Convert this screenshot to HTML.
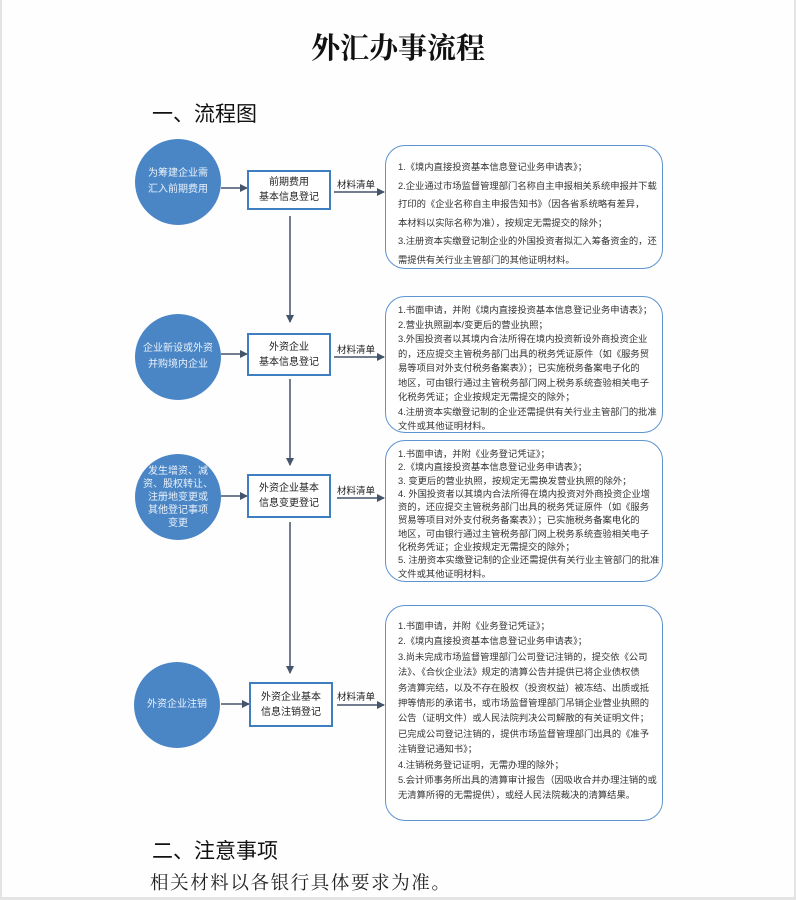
<!DOCTYPE html>
<html><head><meta charset="utf-8"><style>
body{margin:0;width:796px;height:900px;background:#e4e4e4;position:relative;overflow:hidden;font-family:"Liberation Sans","Noto Sans CJK SC",sans-serif;}
.page{position:absolute;left:2px;top:0;width:792px;height:897px;background:#fefefe;}
.a{position:absolute;white-space:nowrap;}
.c{position:absolute;width:86px;height:86px;border-radius:50%;background:#4a86c5;color:#eaf2fb;font-size:10px;display:flex;align-items:center;justify-content:center;text-align:center;line-height:16px;}
.b{position:absolute;width:80px;border:2px solid #3f7fc1;background:#fff;font-size:10px;text-align:center;line-height:15px;color:#222;display:flex;align-items:center;justify-content:center;}
.m{position:absolute;left:385px;width:278px;border:1.5px solid #5d93cf;border-radius:20px;background:#fff;font-size:9.3px;color:#333;box-sizing:border-box;padding-left:12px;white-space:nowrap;}
.l{position:absolute;font-size:9.5px;color:#222;left:337px;}
</style></head><body><div class="page"></div>
<div class="a" style="left:311px;top:26px;font-family:'Noto Serif CJK SC',serif;font-weight:bold;font-size:29px;color:#111;">外汇办事流程</div>
<div class="a" style="left:152px;top:98px;font-size:21px;color:#111;">一、流程图</div>

<svg width="796" height="900" style="position:absolute;left:0;top:0">
<defs><marker id="ar" markerWidth="8" markerHeight="8" refX="7" refY="4" orient="auto" markerUnits="userSpaceOnUse"><path d="M0,0 L8,4 L0,8z" fill="#44546a"/></marker></defs>
<g stroke="#44546a" stroke-width="1.5" marker-end="url(#ar)">
<line x1="221" y1="188" x2="247" y2="188"/>
<line x1="221" y1="354" x2="247" y2="354"/>
<line x1="221" y1="496" x2="247" y2="496"/>
<line x1="221" y1="704" x2="249" y2="704"/>
<line x1="334" y1="192" x2="384" y2="192"/>
<line x1="334" y1="357" x2="384" y2="357"/>
<line x1="337" y1="498" x2="384" y2="498"/>
<line x1="337" y1="705" x2="384" y2="705"/>
<line x1="290" y1="216" x2="290" y2="322"/>
<line x1="290" y1="379" x2="290" y2="465"/>
<line x1="290" y1="522" x2="290" y2="673"/>
</g></svg>

<div class="c" style="left:135px;top:139px;">为筹建企业需<br>汇入前期费用</div>
<div class="c" style="left:135px;top:314px;">企业新设或外资<br>并购境内企业</div>
<div class="c" style="left:135px;top:454px;line-height:13px;">发生增资、减<br>资、股权转让、<br>注册地变更或<br>其他登记事项<br>变更</div>
<div class="c" style="left:134px;top:662px;">外资企业注销</div>

<div class="b" style="left:247px;top:170px;height:36px;">前期费用<br>基本信息登记</div>
<div class="b" style="left:247px;top:333px;height:39px;">外资企业<br>基本信息登记</div>
<div class="b" style="left:247px;top:474px;height:40px;">外资企业基本<br>信息变更登记</div>
<div class="b" style="left:249px;top:682px;height:41px;">外资企业基本<br>信息注销登记</div>

<div class="l" style="top:177px;">材料清单</div>
<div class="l" style="top:342px;">材料清单</div>
<div class="l" style="top:483px;">材料清单</div>
<div class="l" style="top:689px;">材料清单</div>

<div class="m" style="top:145px;height:124px;padding-top:12px;line-height:18.5px;">1.《境内直接投资基本信息登记业务申请表》；<br>2.企业通过市场监督管理部门名称自主申报相关系统申报并下载<br>打印的《企业名称自主申报告知书》（因各省系统略有差异，<br>本材料以实际名称为准），按规定无需提交的除外；<br>3.注册资本实缴登记制企业的外国投资者拟汇入筹备资金的，还<br>需提供有关行业主管部门的其他证明材料。</div>
<div class="m" style="top:296px;height:137px;padding-top:6px;line-height:14.5px;">1.书面申请，并附《境内直接投资基本信息登记业务申请表》；<br>2.营业执照副本/变更后的营业执照；<br>3.外国投资者以其境内合法所得在境内投资新设外商投资企业<br>的，还应提交主管税务部门出具的税务凭证原件（如《服务贸<br>易等项目对外支付税务备案表》）；已实施税务备案电子化的<br>地区，可由银行通过主管税务部门网上税务系统查验相关电子<br>化税务凭证；企业按规定无需提交的除外；<br>4.注册资本实缴登记制的企业还需提供有关行业主管部门的批准<br>文件或其他证明材料。</div>
<div class="m" style="top:440px;height:142px;padding-top:7px;line-height:13.3px;">1.书面申请，并附《业务登记凭证》；<br>2.《境内直接投资基本信息登记业务申请表》；<br>3. 变更后的营业执照，按规定无需换发营业执照的除外；<br>4. 外国投资者以其境内合法所得在境内投资对外商投资企业增<br>资的，还应提交主管税务部门出具的税务凭证原件（如《服务<br>贸易等项目对外支付税务备案表》）；已实施税务备案电化的<br>地区，可由银行通过主管税务部门网上税务系统查验相关电子<br>化税务凭证；企业按规定无需提交的除外；<br>5. 注册资本实缴登记制的企业还需提供有关行业主管部门的批准<br>文件或其他证明材料。</div>
<div class="m" style="top:605px;height:216px;padding-top:13px;line-height:15.4px;">1.书面申请，并附《业务登记凭证》；<br>2.《境内直接投资基本信息登记业务申请表》；<br>3.尚未完成市场监督管理部门公司登记注销的，提交依《公司<br>法》、《合伙企业法》规定的清算公告并提供已将企业债权债<br>务清算完结，以及不存在股权（投资权益）被冻结、出质或抵<br>押等情形的承诺书，或市场监督管理部门吊销企业营业执照的<br>公告（证明文件）或人民法院判决公司解散的有关证明文件；<br>已完成公司登记注销的，提供市场监督管理部门出具的《准予<br>注销登记通知书》；<br>4.注销税务登记证明，无需办理的除外；<br>5.会计师事务所出具的清算审计报告（因吸收合并办理注销的或<br>无清算所得的无需提供），或经人民法院裁决的清算结果。</div>

<div class="a" style="left:152px;top:835px;font-size:21px;color:#111;">二、注意事项</div>
<div class="a" style="left:150px;top:869px;font-family:'Noto Serif CJK SC',serif;font-size:18.5px;letter-spacing:1.6px;color:#222;">相关材料以各银行具体要求为准。</div>
</body></html>
